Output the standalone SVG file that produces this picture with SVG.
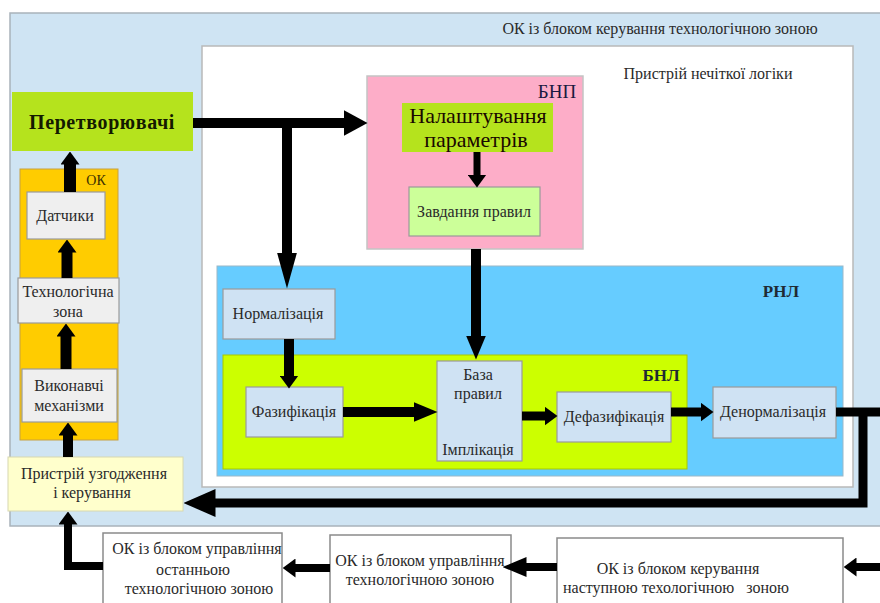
<svg xmlns="http://www.w3.org/2000/svg" width="880" height="603" viewBox="0 0 880 603">
  <style>
    text { font-family: 'Liberation Serif', 'DejaVu Serif', serif; fill: #2a2a2a; text-anchor: middle; }
    .t15 { font-size: 16px; }
    .t14 { font-size: 16px; }
    .lbl { font-size: 17px; font-weight: bold; fill: #1f2a33; }
    .box { stroke: #9a9a9a; stroke-width: 1.2; }
    .wire { fill: none; stroke: #000; stroke-linejoin: miter; }
  </style>
  <defs>
    <!-- arrowheads: base at the end of the shaft, tip pointing forward -->
    <marker id="hb" viewBox="0 0 24 26" refX="0.5" refY="13" markerWidth="24" markerHeight="26" markerUnits="userSpaceOnUse" orient="auto">
      <path d="M0,0 L24,13 L0,26 z" fill="#000"/>
    </marker>
    <marker id="hl" viewBox="0 0 36 20" refX="0.5" refY="10" markerWidth="36" markerHeight="20" markerUnits="userSpaceOnUse" orient="auto">
      <path d="M0,0 L36,10 L0,20 z" fill="#000"/>
    </marker>
    <marker id="hm" viewBox="0 0 24 20" refX="0.5" refY="10" markerWidth="24" markerHeight="20" markerUnits="userSpaceOnUse" orient="auto">
      <path d="M0,0 L24,10 L0,20 z" fill="#000"/>
    </marker>
    <marker id="hs" viewBox="0 0 13 19" refX="0.5" refY="9.5" markerWidth="13" markerHeight="19" markerUnits="userSpaceOnUse" orient="auto">
      <path d="M0,0 L13,9.5 L0,19 z" fill="#000"/>
    </marker>
    <marker id="hw" viewBox="0 0 32 28" refX="0.5" refY="14" markerWidth="32" markerHeight="28" markerUnits="userSpaceOnUse" orient="auto">
      <path d="M0,0 L32,14 L0,28 z" fill="#000"/>
    </marker>
  </defs>

  <rect width="880" height="603" fill="#ffffff"/>

  <!-- outer container -->
  <g id="ok-zone">
    <rect x="10" y="13" width="875" height="513" fill="#cfe4f3" stroke="#a9b3bb" stroke-width="1.5"/>
    <text class="t15" x="660" y="34">ОК із блоком керування технологічною зоною</text>
  </g>

  <!-- fuzzy logic device -->
  <g id="fuzzy-device">
    <rect x="202" y="46" width="651" height="441" fill="#ffffff" stroke="#b9b9b9" stroke-width="1.5"/>
    <text class="t15" x="708" y="79">Пристрій нечіткої логіки</text>
  </g>

  <!-- БНП -->
  <g id="bnp">
    <rect x="367" y="76" width="216" height="173" fill="#fdadc8" stroke="#c4c4c4" stroke-width="1.5"/>
    <text x="557" y="98" style="font-size:19px; fill:#1a1a40">БНП</text>
  </g>
  <g id="setup">
    <rect x="402" y="103" width="151" height="49" fill="#b5e31d"/>
    <text x="478" y="123" style="font-size:22px; fill:#1a0800">Налаштування</text>
    <text x="476" y="147" style="font-size:22px; fill:#1a0800">параметрів</text>
  </g>
  <g id="rules-task">
    <rect class="box" x="409" y="187" width="131" height="49" fill="#ccff99"/>
    <text class="t14" x="474" y="217">Завдання правил</text>
  </g>

  <!-- converters -->
  <g id="converters">
    <rect x="12" y="92" width="181" height="59" fill="#b5e31d"/>
    <text x="102" y="129" style="font-size:20px; font-weight:bold; letter-spacing:0.6px; fill:#141a00">Перетворювачі</text>
  </g>

  <!-- control object -->
  <g id="ok">
    <rect x="20" y="169" width="98" height="271" fill="#ffcc00" stroke="#c8a040" stroke-width="1"/>
    <text x="96" y="185" style="font-size:14px; fill:#403000">ОК</text>
  </g>
  <g id="sensors">
    <rect class="box" x="27" y="192" width="78" height="47" fill="#efefef"/>
    <text class="t15" x="65" y="221">Датчики</text>
  </g>
  <g id="tech-zone">
    <rect class="box" x="18" y="278" width="101" height="45" fill="#efefef"/>
    <text class="t15" x="68" y="297">Технологічна</text>
    <text class="t15" x="68" y="317">зона</text>
  </g>
  <g id="actuators">
    <rect class="box" x="22" y="369" width="95" height="53" fill="#efefef"/>
    <text class="t15" x="69" y="391">Виконавчі</text>
    <text class="t15" x="69" y="411">механізми</text>
  </g>

  <!-- coordination device -->
  <g id="coordination">
    <rect x="8" y="457" width="175" height="54" fill="#ffffcc" stroke="#d8d8b0" stroke-width="1"/>
    <text class="t15" x="94" y="479">Пристрій узгодження</text>
    <text class="t15" x="92" y="498">і керування</text>
  </g>

  <!-- РНЛ -->
  <g id="rnl">
    <rect x="217" y="266" width="626" height="210" fill="#66ccff" stroke="#9ab8c8" stroke-width="1"/>
    <text class="lbl" x="781" y="297">РНЛ</text>
  </g>
  <g id="normalization">
    <rect class="box" x="223" y="289" width="112" height="50" fill="#cfe2f3"/>
    <text class="t15" x="278" y="319">Нормалізація</text>
  </g>

  <!-- БНЛ -->
  <g id="bnl">
    <rect x="223" y="355" width="464" height="114" fill="#ccff00" stroke="#a8c800" stroke-width="1"/>
    <text class="lbl" x="661" y="381">БНЛ</text>
  </g>
  <g id="fuzzification">
    <rect class="box" x="246" y="387" width="97" height="50" fill="#cfe2f3"/>
    <text class="t15" x="294" y="417">Фазифікація</text>
  </g>
  <g id="rule-base">
    <rect class="box" x="437" y="361" width="85" height="100" fill="#cfe2f3"/>
    <text class="t15" x="478" y="380">База</text>
    <text class="t15" x="478" y="399">правил</text>
    <text class="t15" x="478" y="455">Імплікація</text>
  </g>
  <g id="defuzzification">
    <rect class="box" x="557" y="392" width="114" height="50" fill="#cfe2f3"/>
    <text class="t15" x="614" y="422">Дефазифікація</text>
  </g>
  <g id="denormalization">
    <rect class="box" x="713" y="387" width="123" height="51" fill="#cfe2f3"/>
    <text class="t15" x="773" y="417">Денормалізація</text>
  </g>

  <!-- neighbouring zones -->
  <g id="zone-last">
    <rect x="103" y="533" width="179" height="80" fill="#ffffff" stroke="#8a8a8a" stroke-width="1.5"/>
    <text class="t15" x="197" y="554">ОК із блоком управління</text>
    <text class="t15" x="193" y="575">останньою</text>
    <text class="t15" x="199" y="594">технологічною зоною</text>
  </g>
  <g id="zone-current">
    <rect x="330" y="535" width="181" height="80" fill="#ffffff" stroke="#8a8a8a" stroke-width="1.5"/>
    <text class="t15" x="420" y="566">ОК із блоком управління</text>
    <text class="t15" x="420" y="585">технологічною зоною</text>
  </g>
  <g id="zone-next">
    <rect x="557" y="538" width="286" height="80" fill="#ffffff" stroke="#8a8a8a" stroke-width="1.5"/>
    <text class="t15" x="678" y="574">ОК із блоком керування</text>
    <text class="t15" x="676" y="593" xml:space="preserve">наступною техологічною   зоною</text>
  </g>

  <!-- connectors -->
  <g id="connectors">
    <path class="wire" stroke-width="10" d="M193,123 H344" marker-end="url(#hb)"/>
    <path class="wire" stroke-width="10" d="M287,128 V253" marker-end="url(#hl)"/>
    <path class="wire" stroke-width="10" d="M289,339 V376" marker-end="url(#hs)"/>
    <path class="wire" stroke-width="10" d="M343,412 H414" marker-end="url(#hm)"/>
    <path class="wire" stroke-width="10" d="M476,249 V336" marker-end="url(#hm)"/>
    <path class="wire" stroke-width="7" d="M477,152 V175" marker-end="url(#hs)"/>
    <path class="wire" stroke-width="9" d="M522,416 H545" marker-end="url(#hs)"/>
    <path class="wire" stroke-width="9" d="M671,412 H701" marker-end="url(#hs)"/>
    <path class="wire" stroke-width="9" d="M836,412 H885"/>
    <path class="wire" stroke-width="9" d="M863,412 V503 H215" marker-end="url(#hw)"/>
    <path class="wire" stroke-width="12" d="M70,192 V164" marker-end="url(#hs)"/>
    <path class="wire" stroke-width="11" d="M67,278 V252" marker-end="url(#hs)"/>
    <path class="wire" stroke-width="11" d="M66,369 V336" marker-end="url(#hs)"/>
    <path class="wire" stroke-width="10" d="M68,457 V435" marker-end="url(#hs)"/>
    <path class="wire" stroke-width="8" d="M103,566 H68 V524" marker-end="url(#hs)"/>
    <path class="wire" stroke-width="8" d="M330,568 H295" marker-end="url(#hs)"/>
    <path class="wire" stroke-width="8" d="M557,567 H526" marker-end="url(#hm)"/>
    <path class="wire" stroke-width="8" d="M885,567 H856" marker-end="url(#hs)"/>
  </g>
</svg>
